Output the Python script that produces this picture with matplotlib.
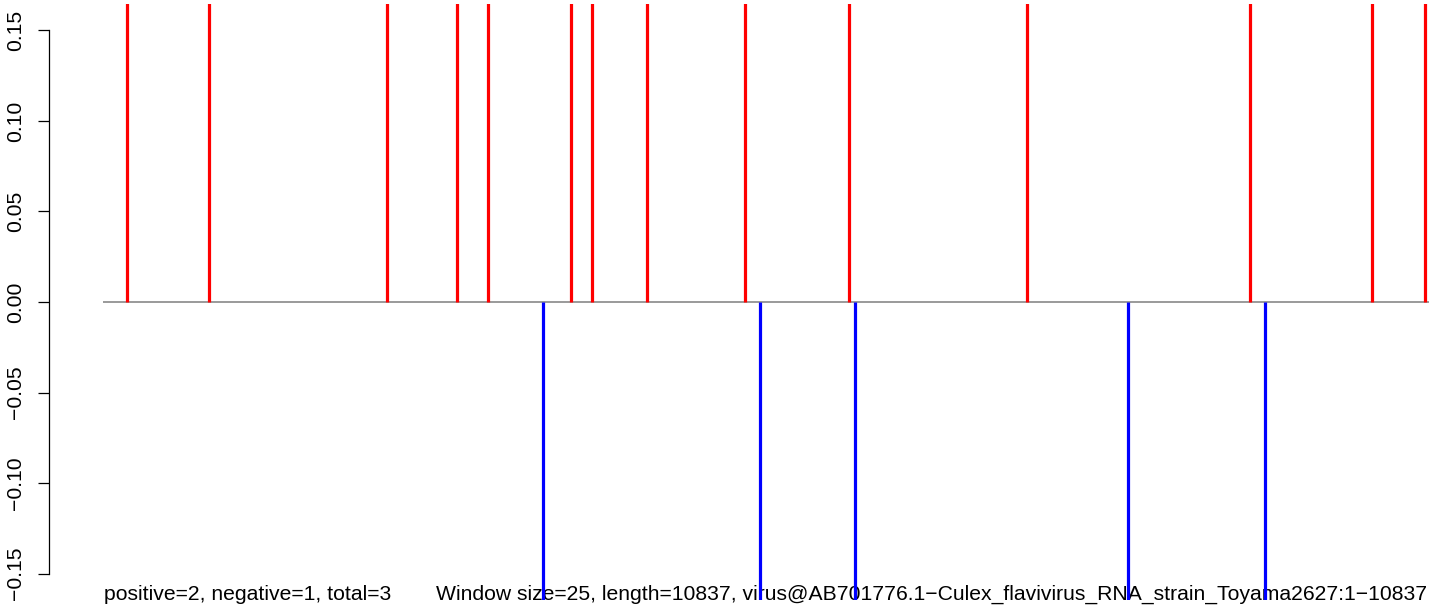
import numpy as np
import matplotlib
matplotlib.use("Agg")
import matplotlib.pyplot as plt

plt.rcParams['font.family'] = ['Liberation Sans', 'DejaVu Sans']

# positions along the genome and clipped scores
seq_length = 10837
pos_sites = [196, 866, 2321, 2893, 3146, 3825, 3996, 4446, 5247, 6097, 7551, 9374, 10371, 10804]
pos_scores = [1.0] * len(pos_sites)
neg_sites = [3596, 5369, 6146, 8377, 9497]
neg_scores = [-1.0] * len(neg_sites)

yticks = [-0.15, -0.10, -0.05, 0.00, 0.05, 0.10, 0.15]
ylabels = ["\u22120.15", "\u22120.10", "\u22120.05", "0.00", "0.05", "0.10", "0.15"]

left_note = "positive=2, negative=1, total=3"
right_note = ("Window size=25, length=10837, "
              "virus@AB701776.1\u2212Culex_flavivirus_RNA_strain_Toyama2627:1\u221210837")

W, H = 1429, 608
fig = plt.figure(figsize=(W / 100, H / 100), dpi=100)
ax = fig.add_axes([49 / W, 8 / H, (W - 49) / W, 596 / H])

# pixel 103 -> 0, pixel 1429 -> seq_length
scale = (1429 - 103) / seq_length
ax.set_xlim(-(103 - 49) / scale, seq_length)
ax.set_ylim(-0.1646, 0.1646)

ax.plot([0, seq_length], [0, 0], color="#929292", lw=1.3, zorder=2, solid_capstyle="butt")
ax.vlines(pos_sites, 0, pos_scores, colors="#ff0000", lw=2.3, zorder=3)
ax.vlines(neg_sites, 0, neg_scores, colors="#0000ff", lw=2.3, zorder=3)

for s in ["top", "right", "bottom"]:
    ax.spines[s].set_visible(False)
ax.spines["left"].set_bounds(-0.15, 0.15)
ax.spines["left"].set_linewidth(0.9)
ax.set_xticks([])
ax.set_yticks(yticks)
ax.set_yticklabels(ylabels, rotation=90, va="center", fontsize=15.2)
ax.tick_params(axis="y", length=8, width=0.9, pad=9)

ax.text(104 / W, 8 / H, left_note, transform=fig.transFigure, fontsize=15.2,
        va="baseline", ha="left", clip_on=False, zorder=1)
ax.text(436 / W, 8 / H, right_note, transform=fig.transFigure, fontsize=15.2,
        va="baseline", ha="left", clip_on=False, zorder=1)

fig.savefig("out.png", dpi=100)
